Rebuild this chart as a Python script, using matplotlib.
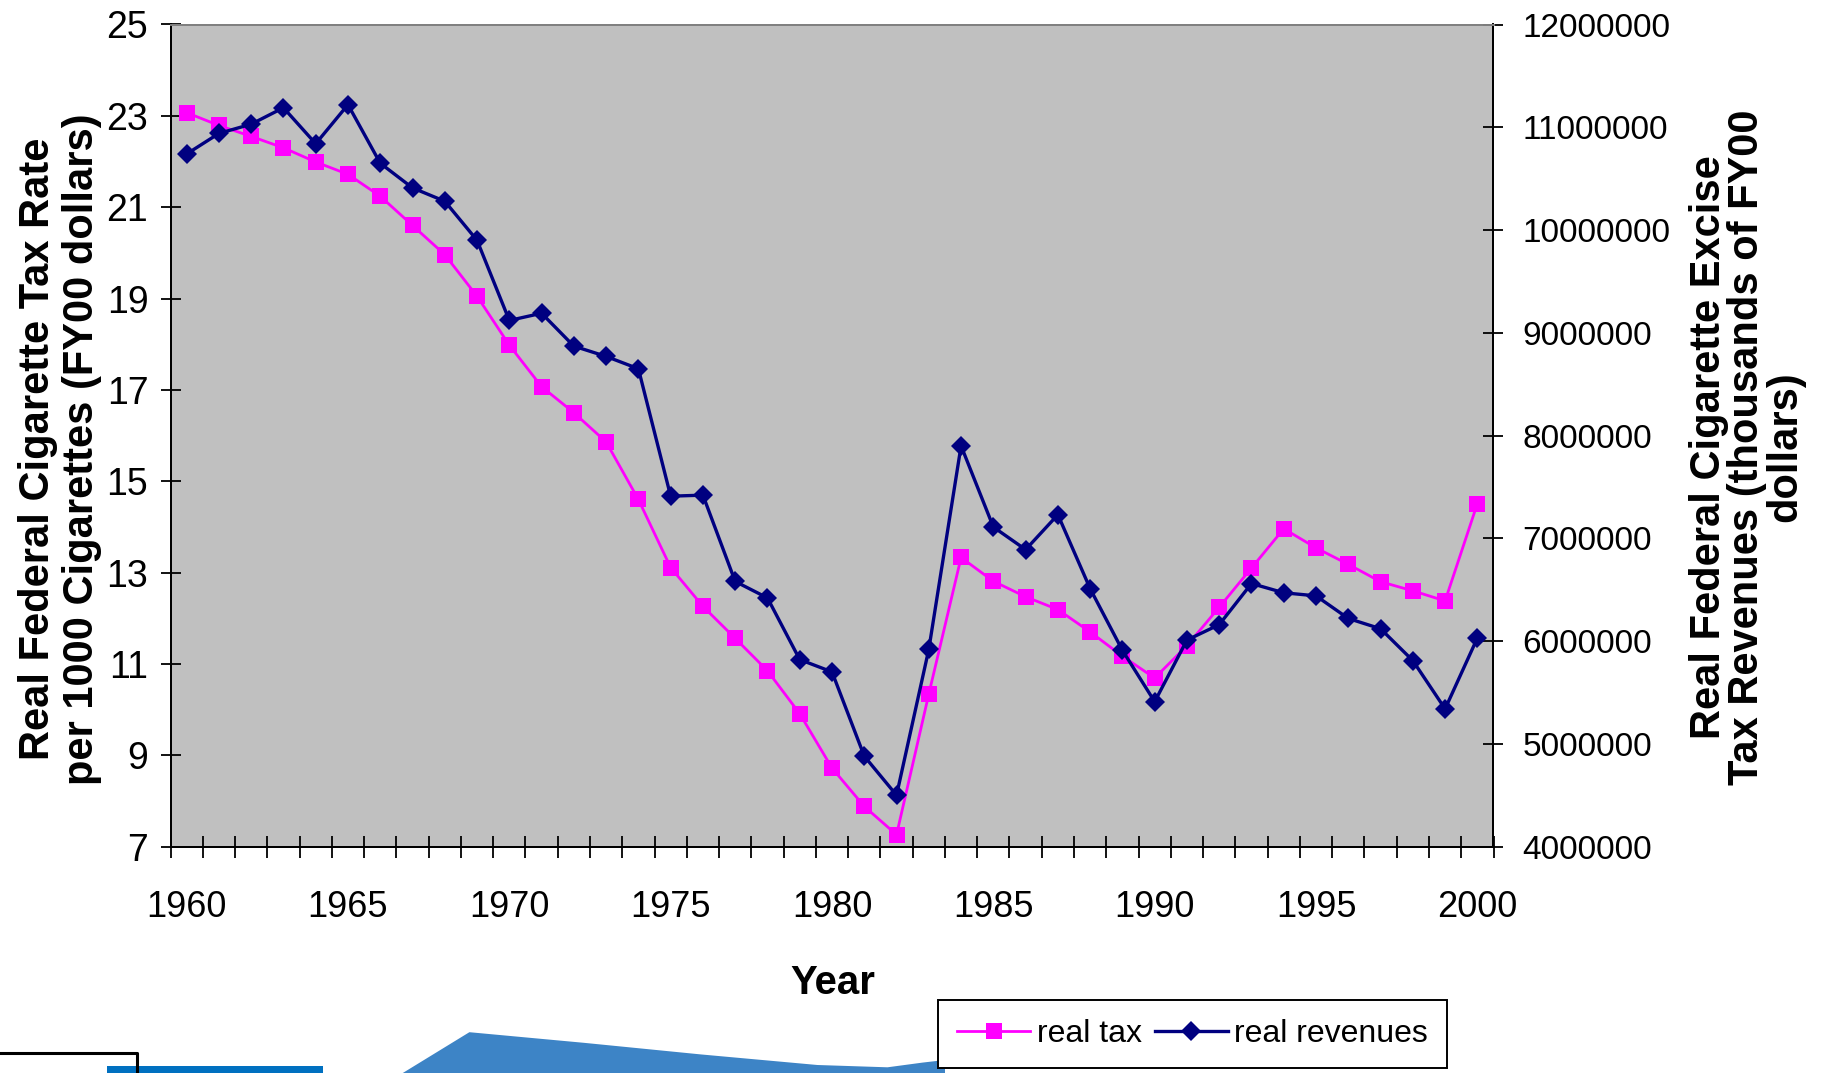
import numpy as np
import matplotlib
matplotlib.use("Agg")
import matplotlib.pyplot as plt
from matplotlib import font_manager
from matplotlib.patches import Polygon, Rectangle
from matplotlib.lines import Line2D

# data
years = list(range(1960, 2001))
real_tax = [23.07, 22.79, 22.55, 22.30, 21.99, 21.72, 21.24, 20.60, 19.96, 19.05,
            17.98, 17.07, 16.50, 15.86, 14.60, 13.11, 12.26, 11.56, 10.85, 9.91,
            8.72, 7.88, 7.26, 10.34, 13.33, 12.81, 12.47, 12.19, 11.70, 11.17,
            10.69, 11.40, 12.24, 13.10, 13.96, 13.54, 13.18, 12.80, 12.60, 12.38,
            14.51]
real_revenues = [10740000, 10940000, 11030000, 11190000, 10840000, 11220000, 10650000, 10410000, 10280000, 9900000,
                 9120000, 9190000, 8870000, 8770000, 8650000, 7410000, 7420000, 6580000, 6420000, 5820000,
                 5700000, 4880000, 4500000, 5920000, 7900000, 7110000, 6890000, 7230000, 6510000, 5910000,
                 5410000, 6010000, 6160000, 6560000, 6470000, 6440000, 6220000, 6120000, 5810000, 5340000,
                 6030000]
x_labels = [1960, 1965, 1970, 1975, 1980, 1985, 1990, 1995, 2000]
left_ticks = [7, 9, 11, 13, 15, 17, 19, 21, 23, 25]
right_ticks = [4000000, 5000000, 6000000, 7000000, 8000000, 9000000, 10000000, 11000000, 12000000]

W, H = 1831, 1073
names = {f.name for f in font_manager.fontManager.ttflist}
narrow = "Liberation Sans Narrow" if "Liberation Sans Narrow" in names else "Liberation Sans"
plt.rcParams['font.family'] = ['Liberation Sans', 'DejaVu Sans']

fig = plt.figure(figsize=(W / 100, H / 100), dpi=100)
fig.patch.set_facecolor("white")

# plot area in pixels
L, R, T, B = 170.5, 1493.5, 24.5, 846.6
ax = fig.add_axes([L / W, 1 - B / H, (R - L) / W, (B - T) / H])
ax.set_facecolor("#C0C0C0")

ax.plot(years, real_tax, color="#FF00FF", lw=2.0, marker="s", ms=11.5,
        markeredgewidth=0, label="real tax", zorder=3)
ax.set_xlim(1959.5, 2000.5)
ax.set_ylim(7, 25)
ax.set_yticks(left_ticks)
ax.set_yticklabels([str(v) for v in left_ticks], fontsize=27)

# category axis: tick marks between years, labels on the years
ax.set_xticks(np.arange(1959.5, 2001, 1))
ax.set_xticklabels([])
ax.set_xticks(x_labels, minor=True)
ax.set_xticklabels([str(v) for v in x_labels], minor=True, fontsize=26, family=narrow)
ax.tick_params(axis="x", which="major", direction="inout", length=16, width=1.3, color="black")
ax.tick_params(axis="x", which="minor", length=0, pad=31)
ax.tick_params(axis="y", direction="inout", length=14, width=1.3, pad=9)

ax2 = ax.twinx()
ax2.plot(years, real_revenues, color="#000080", lw=2.4, marker="D", ms=10.5,
         markeredgewidth=0, label="real revenues", zorder=3)
ax2.set_ylim(4000000, 12000000)
ax2.set_yticks(right_ticks)
ax2.set_yticklabels([str(v) for v in right_ticks], fontsize=24)
ax2.tick_params(axis="y", direction="inout", length=14, width=1.3, pad=14)

for a in (ax, ax2):
    a.spines["top"].set_color("#808080")
    a.spines["left"].set_color("black")
    a.spines["right"].set_color("black")
    a.spines["bottom"].set_color("black")
    for s in a.spines.values():
        s.set_linewidth(1.4)

# axis titles
fig.text(60 / W, 1 - 449 / H, "Real Federal Cigarette Tax Rate\nper 1000 Cigarettes (FY00 dollars)",
         rotation=90, ha="center", va="center", multialignment="center",
         fontsize=30, fontweight="bold", linespacing=1.1)
fig.text(1747 / W, 1 - 447 / H, "Real Federal Cigarette Excise\nTax Revenues (thousands of FY00\ndollars)",
         rotation=90, ha="center", va="center", multialignment="center",
         fontsize=30, fontweight="bold", linespacing=0.95)
fig.text(832.6 / W, 1 - 983 / H, "Year", ha="center", va="center",
         fontsize=29, fontweight="bold", family=narrow)

# slide decorations under the chart
deco_swoosh = [(402.8, 1073), (469.4, 1032.2), (583.8, 1042.8), (700.6, 1054.4), (817.4, 1065),
               (887.5, 1067.3), (922.5, 1062.6), (945, 1060), (945, 1073)]
fig.add_artist(Polygon([(x / W, 1 - y / H) for x, y in deco_swoosh], closed=True,
                       transform=fig.transFigure, facecolor="#3D84C6", edgecolor="none"))
fig.add_artist(Rectangle((107 / W, 0), (323 - 107) / W, 7 / H, transform=fig.transFigure,
                         facecolor="#0070C0", edgecolor="none"))
fig.add_artist(Line2D([0, 137 / W, 137 / W], [1 - 1053 / H, 1 - 1053 / H, 0],
                      transform=fig.transFigure, color="black", lw=2.2))

# legend
h1, l1 = ax.get_legend_handles_labels()
h2, l2 = ax2.get_legend_handles_labels()
leg = fig.legend(h1 + h2, l1 + l2, loc="upper left", bbox_to_anchor=(937.7 / W, 1 - 999.6 / H),
                 ncol=2, frameon=True, fancybox=False, shadow=False, borderaxespad=0,
                 prop={"family": narrow, "size": 23}, handlelength=2.3, handletextpad=0.2,
                 columnspacing=0.4, borderpad=0.6)
leg.get_frame().set_edgecolor("black")
leg.get_frame().set_linewidth(1.4)
leg.get_frame().set_alpha(1)
leg.set_zorder(10)

fig.savefig("out.png", dpi=100)
